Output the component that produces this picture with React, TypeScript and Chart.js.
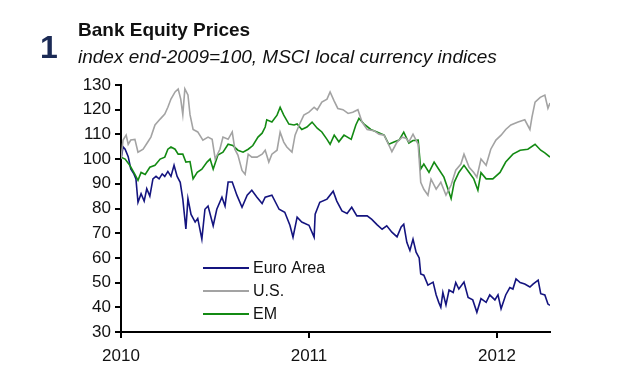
import React, { useEffect, useRef } from "react";
import { Chart, registerables } from "chart.js";

Chart.register(...registerables);

// x values are days since end-2009
const euroDays = [0,4,8,14,19,25,29,33,39,45,50,56,62,68,74,80,85,91,97,103,109,115,120,126,130,136,144,149,157,163,169,179,186,196,202,208,216,225,235,245,254,264,274,280,293,307,318,328,334,342,351,365,375,377,386,400,412,419,429,439,448,458,468,478,487,497,507,516,526,536,544,549,555,561,567,573,579,582,588,596,606,612,617,621,625,631,637,645,650,656,666,674,683,691,699,709,716,726,732,738,747,755,761,767,775,784,794,800,810,815,823,829,833];
const euroValues = [100,105,104,101,96,94,92,82.5,86,83,88,85,92,93,92,94,93,95,93,97.5,93,90.6,83.8,71.7,84,77.6,74.5,76,67.6,79.7,81,73,79.7,84.6,81,90.7,90.7,85.4,80.5,85.4,87.4,84.6,82,84.6,85.4,79.7,78.5,73.2,68.4,76.5,74.5,73.2,68.4,77.7,82.5,83.8,87,83,79,78,80.5,77,77,77,75.6,73.5,71.6,73,70.4,68.5,72.5,73.6,66.3,63,67.6,62.3,60,53.5,53,49,50.2,45,42,40,46,41,47,46,50,47.4,50.2,44,43,38,43.5,42,45,43,45,39.4,45,48,47.4,51.5,50,49.4,48.2,49.4,51,45.5,45,41.3,40.8];

const usDays = [0,4,10,14,19,27,33,43,52,58,66,76,85,91,97,105,111,116,120,124,130,134,140,149,159,169,177,183,192,198,208,216,221,227,235,241,247,254,264,274,280,287,293,303,309,316,322,332,338,346,355,365,375,381,390,400,406,414,421,431,441,450,460,468,478,491,501,511,520,526,536,546,553,559,567,577,582,588,596,602,612,621,631,641,650,660,666,676,685,691,699,709,718,728,738,747,757,771,784,794,798,804,814,823,829,833];
const usValues = [100,107.7,109.7,106,107.7,108,102.8,104,106.9,108.9,113.8,116.2,118.2,121,124.3,127.2,128.4,124.3,118,128.4,126,118,112,111,107.7,108.9,108,100,104,108.9,108,111,104,101.6,95.4,93.8,102,100.8,100.8,102,103.6,98.8,102,103.6,110.9,106.9,104.9,102.8,109.7,113.8,117.8,119,121,119.9,123.1,124.3,127.2,123.5,120.5,120,118.5,119,120,115,112,111.5,110.1,109.7,105.7,103,106.9,108.9,108.5,107,110.1,106,90.6,87.8,85.4,91.9,87.8,90.6,85.4,89.5,95.5,98,102,96.7,94.6,92.7,100,97.5,104,107.7,109.7,112,113.8,115,115.9,112,117,123.1,125,125.9,120.6,122.7];

const emDays = [0,8,17,27,33,39,47,56,66,76,85,91,97,105,111,120,126,134,140,148,157,167,173,179,188,198,208,217,227,237,247,256,266,274,280,283,293,303,309,316,326,336,342,351,361,371,381,390,400,406,414,423,433,447,456,462,472,485,497,511,520,530,540,549,559,567,577,582,588,598,608,617,627,637,641,647,656,666,676,685,693,699,709,722,736,747,761,775,790,804,815,823,833];
const emValues = [100.8,100,97.5,93.8,91.4,94.6,93.8,96.7,97.5,100,100.8,104,104.9,104,102,102,98.8,99,92,94.6,95.9,98.8,100,95.9,101.6,102.8,106,105.5,103.6,102.8,104,105.5,108.9,110.5,113,115.9,115,117.8,121,117.8,114.2,113.8,114.2,112,113,115,112.5,111,108,106,109.7,107,109.7,108,113.8,116.5,114.2,112,111,109.7,106,106.9,107.7,110.9,106.5,107.5,107.7,96,98,94.6,98.8,95.9,92.7,86.6,84,90.6,94.6,97.5,94.6,92,87.4,94.5,92,92,94.6,98.8,102,103.6,104,106,103.6,102.5,100.8];

const seriesNames = ["Euro Area", "U.S.", "EM"];
const seriesColors = ["#14147f", "#a3a3a3", "#138a13"];
const yearTicks = [0, 365, 730];
const yearLabels = ["2010", "2011", "2012"];

const FONT = '"Liberation Sans", Arial, Helvetica, sans-serif';

const pts = (xs: number[], ys: number[]) => xs.map((x, i) => ({ x, y: ys[i] }));

const legendPlugin = {
  id: "insideLegend",
  afterDraw(chart: any) {
    const { ctx, chartArea } = chart;
    ctx.save();
    ctx.font = `16px ${FONT}`;
    ctx.textBaseline = "middle";
    ctx.textAlign = "left";
    seriesNames.forEach((name, i) => {
      const y = chartArea.top + 183 + i * 23;
      const x0 = chartArea.left + 82;
      ctx.strokeStyle = seriesColors[i];
      ctx.lineWidth = 2;
      ctx.beginPath();
      ctx.moveTo(x0, y);
      ctx.lineTo(x0 + 46, y);
      ctx.stroke();
      ctx.fillStyle = "#111";
      ctx.fillText(name, x0 + 50, y + 1);
    });
    ctx.restore();
  },
};

export default function App() {
  const ref = useRef<HTMLCanvasElement>(null);
  useEffect(() => {
    if (!ref.current) return;
    const chart = new Chart(ref.current, {
      type: "line",
      data: {
        datasets: [
          { label: seriesNames[1], data: pts(usDays, usValues), borderColor: seriesColors[1] },
          { label: seriesNames[2], data: pts(emDays, emValues), borderColor: seriesColors[2] },
          { label: seriesNames[0], data: pts(euroDays, euroValues), borderColor: seriesColors[0] },
        ].map((d) => ({ ...d, borderWidth: 1.6, pointRadius: 0, tension: 0, fill: false })),
      },
      options: {
        animation: false,
        responsive: false,
        events: [],
        layout: { padding: { top: 85, right: 76, left: 0, bottom: 0 } },
        plugins: { legend: { display: false }, title: { display: false }, tooltip: { enabled: false } },
        scales: {
          x: {
            type: "linear",
            min: 0,
            max: 833,
            afterBuildTicks: (s: any) => {
              s.ticks = yearTicks.map((v) => ({ value: v }));
            },
            afterFit: (s: any) => {
              s.height = 60;
            },
            ticks: {
              autoSkip: false,
              maxRotation: 0,
              color: "#111",
              font: { family: FONT, size: 17 },
              padding: 8,
              callback: (v: any) => yearLabels[yearTicks.indexOf(Number(v))] ?? "",
            },
            grid: { drawOnChartArea: false, drawTicks: true, tickLength: 6, color: "#000", lineWidth: 2 },
            border: { display: true, color: "#000", width: 2 },
          },
          y: {
            min: 30,
            max: 130,
            afterFit: (s: any) => {
              s.width = 121;
            },
            ticks: { stepSize: 10, color: "#111", font: { family: FONT, size: 17 }, padding: 4 },
            grid: { drawOnChartArea: false, drawTicks: true, tickLength: 6, color: "#000", lineWidth: 2 },
            border: { display: true, color: "#000", width: 2 },
          },
        },
      },
      plugins: [legendPlugin],
    });
    return () => chart.destroy();
  }, []);

  return (
    <div style={{ position: "fixed", left: 0, top: 0, width: 626, height: 392, background: "#fff", fontFamily: FONT }}>
      <canvas ref={ref} width={626} height={392} style={{ position: "absolute", left: 0, top: 0 }} />
      <div style={{ position: "absolute", left: 40, top: 29, fontSize: 32, fontWeight: 700, color: "#1b2a55", lineHeight: "36px" }}>1</div>
      <div style={{ position: "absolute", left: 78, top: 19, fontSize: 19, fontWeight: 700, color: "#111", lineHeight: "22px", whiteSpace: "nowrap" }}>
        Bank Equity Prices
      </div>
      <div style={{ position: "absolute", left: 78, top: 46, fontSize: 19, fontStyle: "italic", color: "#111", lineHeight: "22px", whiteSpace: "nowrap" }}>
        index end-2009=100, MSCI local currency indices
      </div>
    </div>
  );
}
